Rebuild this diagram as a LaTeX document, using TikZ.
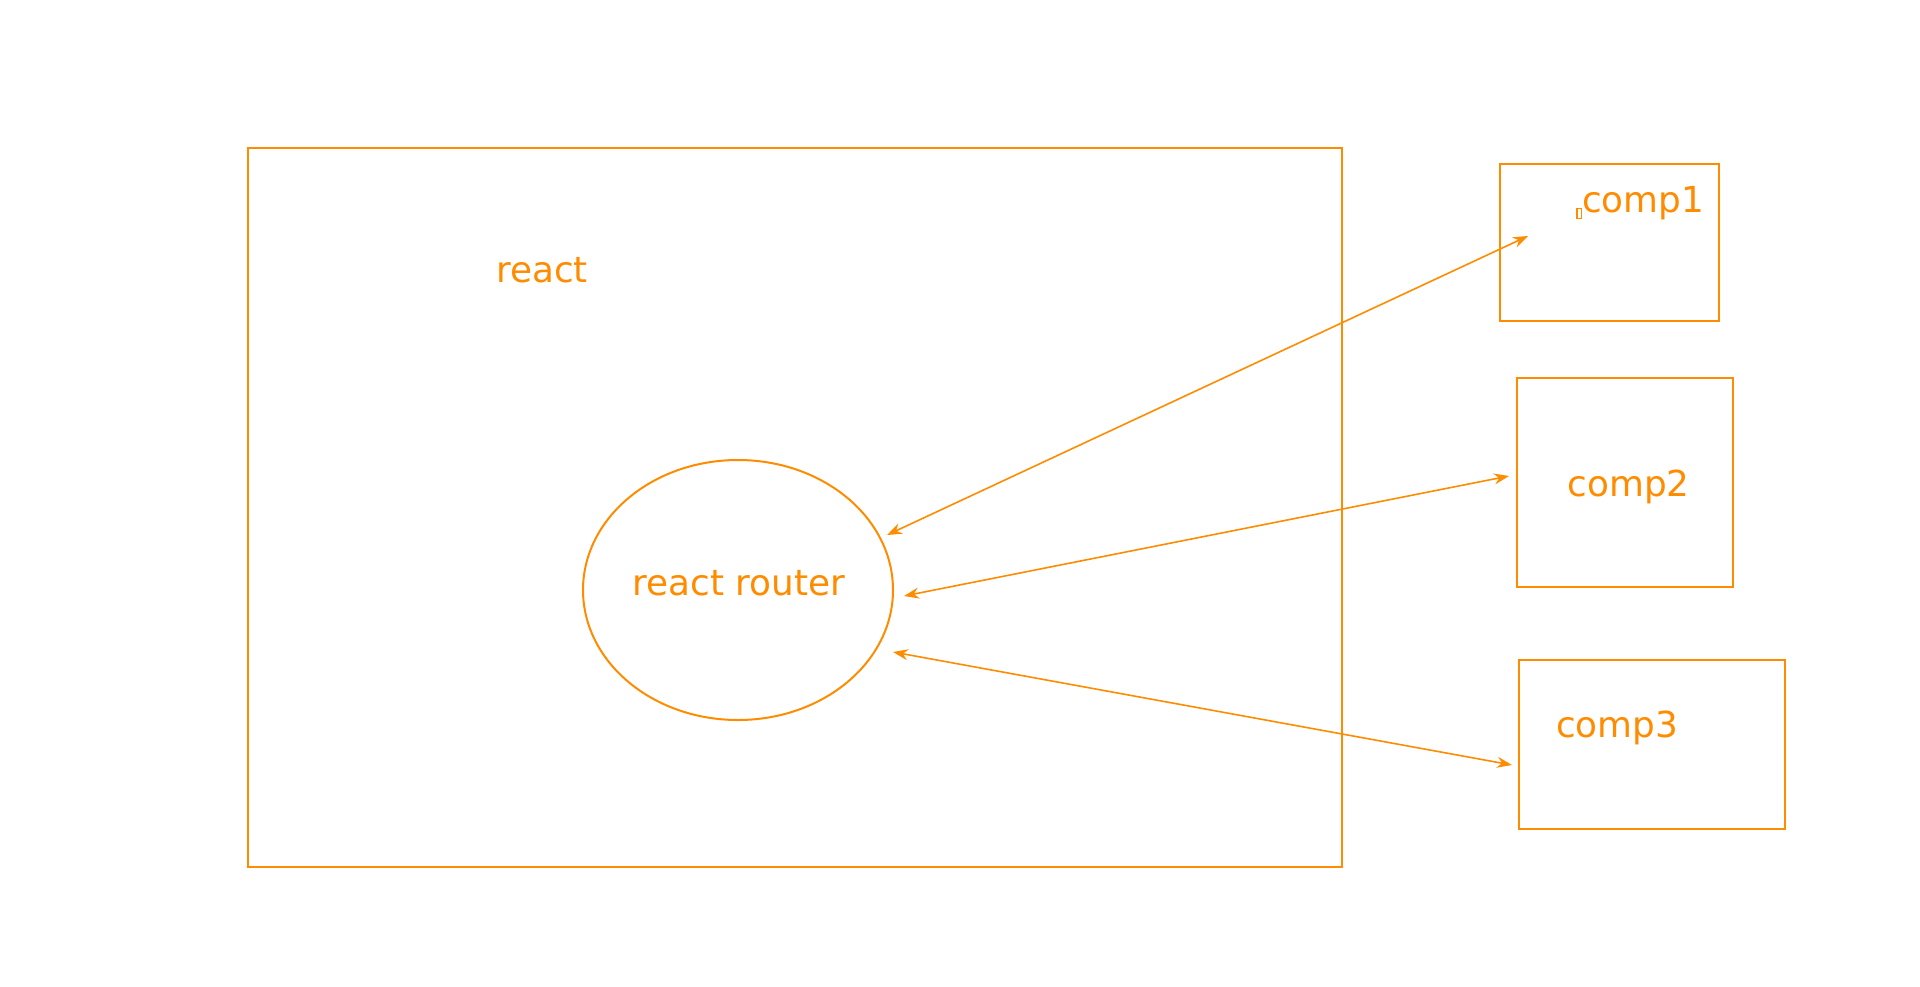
\documentclass[tikz,border=0pt]{standalone}
\usepackage{fontspec}
\setmainfont{DejaVu Sans}
\usetikzlibrary{arrows.meta,shapes.geometric}
\definecolor{routeorange}{HTML}{FF8C00}
\begin{document}
\begin{tikzpicture}[x=1pt,y=-1pt,
every node/.append style={text=routeorange, font=\fontsize{35.8}{43}\selectfont},
boxstyle/.style={draw=routeorange, line width=2pt, inner sep=0pt},
link/.style={draw=routeorange, line width=1.6pt,
  {Stealth[length=15pt,width=11pt,inset=5pt]}-{Stealth[length=15pt,width=11pt,inset=5pt]}}]

\useasboundingbox (0,0) rectangle (1920,986);

\node[boxstyle, minimum width=1094pt, minimum height=719pt] (react) at (795,507.5) {};
\node[boxstyle, ellipse, minimum width=310pt, minimum height=260pt] (router) at (738,590) {};
\node[boxstyle, minimum width=219pt, minimum height=157pt] (comp1) at (1609.5,242.5) {};
\node[boxstyle, minimum width=216pt, minimum height=209pt] (comp2) at (1625,482.5) {};
\node[boxstyle, minimum width=266pt, minimum height=169pt] (comp3) at (1652,744.5) {};

\node[anchor=base] (reactText) at (542,282) {react};
\node[anchor=base] (routerText) at (739,595) {react router};
\node[anchor=base] (comp1Text) at (1643,212) {comp1};
\node[anchor=base] (comp2Text) at (1628.5,496) {comp2};
\node[anchor=base] (comp3Text) at (1617,737) {comp3};

%\draw (comp1Text.base west) circle (2pt);
\draw[routeorange, line width=1.2pt] (1577,208.5) rectangle (1581.5,218.5);

\coordinate (Router1) at (887,535);
\coordinate (Router2) at (904,596);
\coordinate (Router3) at (893,652);
\coordinate (Comp1In) at (1528,236);
\coordinate (Comp2In) at (1509,476);
\coordinate (Comp3In) at (1512,765);

\foreach \u/\v in
{ Router1/Comp1In,
    Router2/Comp2In,
    Router3/Comp3In}
{
    \draw[link] (\u) -- (\v);
};

\end{tikzpicture}
\end{document}
